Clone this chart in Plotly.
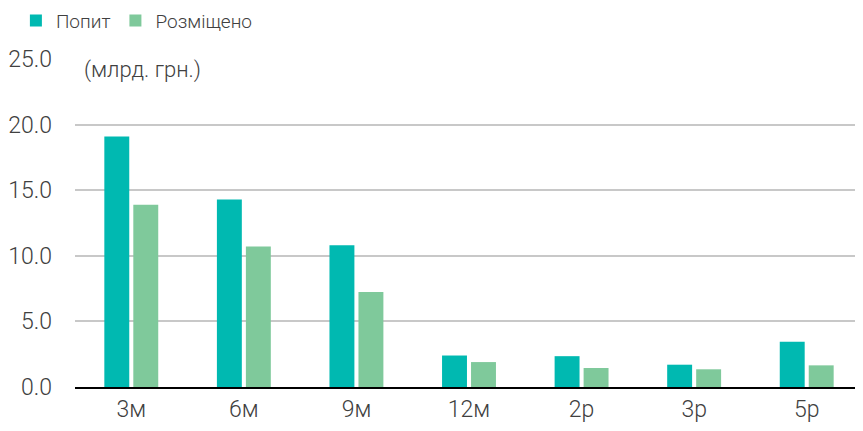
import plotly.graph_objects as go

categories = ["3м", "6м", "9м", "12м", "2р", "3р", "5р"]
demand = [19.1, 14.3, 10.8, 2.4, 2.35, 1.7, 3.45]
placed = [13.9, 10.7, 7.25, 1.9, 1.45, 1.35, 1.65]
y_ticks = [0, 5, 10, 15, 20, 25]

FONT = "Roboto, sans-serif"
TXT = "#404040"

fig = go.Figure()
fig.add_trace(go.Bar(x=categories, y=demand, name="Попит",
                     marker=dict(color="#00B9B1", line=dict(width=0))))
fig.add_trace(go.Bar(x=categories, y=placed, name="Розміщено",
                     marker=dict(color="#7FC99B", line=dict(width=0))))

# page body has an 8px margin, so the figure is a bit smaller than the window
fig.update_layout(
    width=855, height=423,
    margin=dict(l=67, r=0, t=51, b=44, autoexpand=False),
    barmode="group",
    bargap=0.485,
    bargroupgap=0.14,
    plot_bgcolor="white",
    paper_bgcolor="white",
    font=dict(family=FONT, size=19, color=TXT, weight=300),
    showlegend=True,
    legend=dict(orientation="h", x=-0.075, xanchor="left", y=1.175, yanchor="top",
                font=dict(size=19, color=TXT, weight=300), itemwidth=30,
                bgcolor="rgba(0,0,0,0)"),
    xaxis=dict(showline=True, linecolor="black", linewidth=2, showgrid=False,
               ticks="", tickfont=dict(size=23, color=TXT, weight=300)),
    yaxis=dict(range=[0, 25], tickvals=y_ticks, tickformat=".1f",
               showgrid=True, gridcolor="#C8C8C8", gridwidth=2,
               zeroline=False, ticks="", ticklabelstandoff=22,
               tickfont=dict(size=23, color=TXT, weight=300)),
)

fig.add_annotation(text="(млрд. грн.)", xref="paper", yref="y",
                   x=0, y=25, xanchor="left", yanchor="middle", yshift=-11,
                   showarrow=False, bgcolor="white",
                   font=dict(size=22, color=TXT, family=FONT, weight=300),
                   borderpad=8)

fig.write_html("out.html")
